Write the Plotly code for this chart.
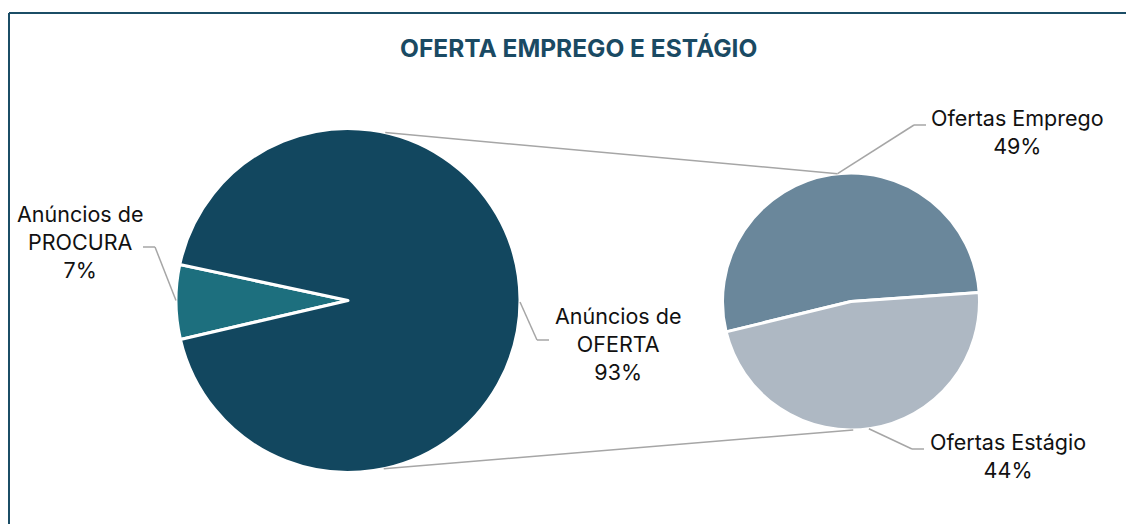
import math
import plotly.graph_objects as go

# ---- data ----
main_labels = ["Anúncios de PROCURA", "Anúncios de OFERTA"]
main_values = [7, 93]
sub_labels = ["Ofertas Emprego", "Ofertas Estágio"]
sub_values = [49, 44]
title_text = "OFERTA EMPREGO E ESTÁGIO"

W, H = 1134, 524
OFF = 8  # page body margin offset
main_colors = ["#1d6f7e", "#12475f"]
sub_colors = ["#6a879b", "#aeb8c3"]

def px(x, y):
    return (x - OFF) / W, 1 - (y - OFF) / H

# geometry (pixels in the final screenshot)
L_cx, L_cy, L_r = 348, 300.5, 172
R_cx, R_cy, R_r = 851, 301.5, 128.5

def dom(cx, cy, r):
    x0, y0 = px(cx - r, cy + r)
    x1, y1 = px(cx + r, cy - r)
    return dict(x=[x0, x1], y=[y0, y1])

fig = go.Figure()
# main pie: PROCURA centred on 9 o'clock
proc_angle = main_values[0] / sum(main_values) * 360
fig.add_trace(go.Pie(
    labels=main_labels, values=main_values, sort=False,
    direction="clockwise", rotation=270 - proc_angle / 2 - 0.5,
    marker=dict(colors=main_colors, line=dict(color="white", width=3)),
    textinfo="none", hoverinfo="label+percent", showlegend=False,
    domain=dom(L_cx, L_cy, L_r),
))
emp_angle = sub_values[0] / sum(sub_values) * 360
fig.add_trace(go.Pie(
    labels=sub_labels, values=sub_values, sort=False,
    direction="clockwise", rotation=86 - emp_angle,
    marker=dict(colors=sub_colors, line=dict(color="white", width=3)),
    textinfo="none", hoverinfo="label+value", showlegend=False,
    domain=dom(R_cx, R_cy, R_r),
))

def pt(cx, cy, r, ang):
    # ang: degrees clockwise from 12 o'clock
    a = math.radians(ang)
    return cx + r * math.sin(a), cy - r * math.cos(a)

shapes = []
def seg(p0, p1, color="#a6a6a6", width=1.5):
    x0, y0 = px(*p0)
    x1, y1 = px(*p1)
    shapes.append(dict(type="line", xref="paper", yref="paper", x0=x0, y0=y0, x1=x1, y1=y1,
                       line=dict(color=color, width=width)))

# connector lines between pies
seg(pt(L_cx, L_cy, L_r, 12.5), pt(R_cx, R_cy, R_r, -6))
seg(pt(L_cx, L_cy, L_r, 168), pt(R_cx, R_cy, R_r, 179))

# leader lines
seg(pt(L_cx, L_cy, L_r, 270), (155, 247)); seg((155, 247), (143, 247))
seg(pt(L_cx, L_cy, L_r, 90.5), (537, 340)); seg((537, 340), (549, 340))
seg(pt(R_cx, R_cy, R_r, -6), (914, 125)); seg((914, 125), (926, 125))
seg(pt(R_cx, R_cy, R_r, 172), (912, 449)); seg((912, 449), (924, 449))

# frame
frame = "#1b4d66"
seg((9, 13), (W + 20, 13), color=frame, width=2)
seg((9, 13), (9, H + 20), color=frame, width=2)

tot = sum(main_values)
def pct(v):
    return f"{round(v / tot * 100)}%"

font = dict(family="Inter, Lato, sans-serif", size=21.5, color="#111111")
tx, ty = px(578, 48)
annotations = [
    dict(text=f"<b>{title_text}</b>", x=tx, y=ty, xref="paper", yref="paper",
         showarrow=False, font=dict(family="Inter, sans-serif", size=24.5, color="#1a4a63"),
         xanchor="center", yanchor="middle"),
]
def lab(lines, cx, cy):
    x, y = px(cx, cy)
    annotations.append(dict(text="<br>".join(lines), x=x, y=y, xref="paper", yref="paper",
                            showarrow=False, font=font, align="center",
                            xanchor="center", yanchor="middle"))

lab(["Anúncios de", main_labels[0].split(" de ")[1], pct(main_values[0])], 80, 241.5)
lab(["Anúncios de", main_labels[1].split(" de ")[1], pct(main_values[1])], 618, 344)
lab([sub_labels[0], pct(sub_values[0])], 1017, 132)
lab([sub_labels[1], pct(sub_values[1])], 1008, 456)

fig.update_layout(
    width=W, height=H, margin=dict(l=0, r=0, t=0, b=0),
    paper_bgcolor="white", plot_bgcolor="white",
    shapes=shapes, annotations=annotations,
)
fig.write_html("out.html")
